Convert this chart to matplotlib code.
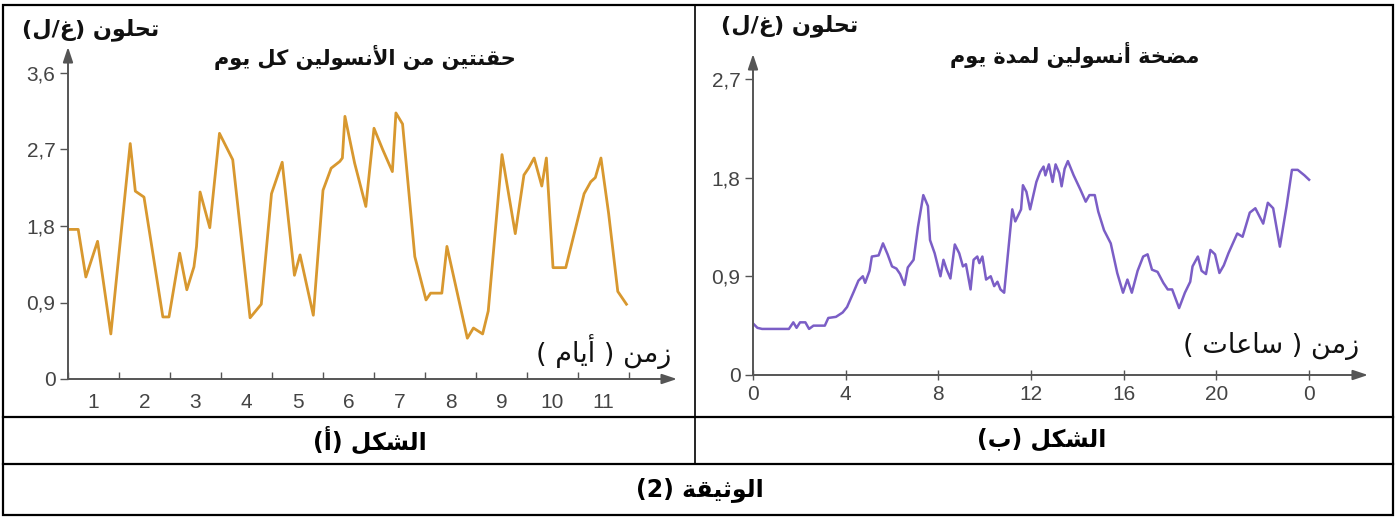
import matplotlib
matplotlib.use("Agg")
import matplotlib.pyplot as plt
from matplotlib.patches import Rectangle
from matplotlib.lines import Line2D

# ---------------- data ----------------
days_a = [0, 0.20, 0.35, 0.58, 0.84, 1.22, 1.32, 1.49, 1.86, 1.98, 2.19, 2.33, 2.47,
          2.52, 2.59, 2.78, 2.97, 3.23, 3.57, 3.79, 3.99, 4.20, 4.44, 4.55, 4.81, 5.00,
          5.16, 5.33, 5.38, 5.43, 5.62, 5.84, 6.00, 6.17, 6.36, 6.43, 6.56, 6.80, 7.02,
          7.11, 7.33, 7.43, 7.83, 7.95, 8.13, 8.24, 8.51, 8.77, 8.94, 9.03, 9.14, 9.29,
          9.38, 9.51, 9.76, 10.12, 10.25, 10.34, 10.45, 10.60, 10.78, 10.95]
glucose_a = [1.76, 1.76, 1.20, 1.62, 0.53, 2.77, 2.21, 2.14, 0.73, 0.73, 1.48, 1.05, 1.32,
             1.56, 2.20, 1.78, 2.89, 2.58, 0.72, 0.88, 2.18, 2.55, 1.22, 1.46, 0.75, 2.22,
             2.48, 2.56, 2.60, 3.09, 2.54, 2.03, 2.95, 2.70, 2.44, 3.13, 3.00, 1.44, 0.93,
             1.01, 1.01, 1.56, 0.48, 0.60, 0.53, 0.80, 2.64, 1.71, 2.40, 2.48, 2.60, 2.27,
             2.60, 1.31, 1.31, 2.18, 2.32, 2.37, 2.60, 1.95, 1.03, 0.88]

hours_b = [0, 0.19, 0.39, 1.55, 1.74, 1.88, 2.03, 2.26, 2.42, 2.61, 3.10, 3.25, 3.58,
           3.87, 4.06, 4.35, 4.55, 4.74, 4.84, 5.03, 5.13, 5.42, 5.61, 5.81, 6.00, 6.19,
           6.35, 6.54, 6.68, 6.93, 7.12, 7.35, 7.55, 7.64, 7.84, 8.09, 8.22, 8.36, 8.52,
           8.71, 8.90, 9.06, 9.19, 9.39, 9.52, 9.68, 9.77, 9.90, 10.06, 10.26, 10.41,
           10.55, 10.68, 10.84, 11.19, 11.32, 11.57, 11.65, 11.80, 11.96, 12.23, 12.39,
           12.54, 12.62, 12.77, 12.93, 13.06, 13.22, 13.32, 13.45, 13.59, 13.84, 14.13,
           14.36, 14.52, 14.75, 14.90, 15.15, 15.44, 15.72, 15.97, 16.16, 16.35, 16.60,
           16.84, 17.03, 17.22, 17.46, 17.71, 17.90, 18.09, 18.39, 18.64, 18.87, 18.97,
           19.20, 19.36, 19.55, 19.74, 19.94, 20.13, 20.32, 20.52, 20.90, 21.13, 21.44,
           21.68, 22.02, 22.22, 22.45, 22.74, 23.03, 23.26, 23.51, 23.80, 24.00]
glucose_b = [0.47, 0.43, 0.42, 0.42, 0.48, 0.43, 0.48, 0.48, 0.42, 0.45, 0.45, 0.52, 0.53,
             0.57, 0.62, 0.76, 0.86, 0.90, 0.84, 0.95, 1.08, 1.09, 1.20, 1.10, 0.99, 0.97,
             0.92, 0.82, 0.98, 1.05, 1.35, 1.64, 1.54, 1.23, 1.11, 0.90, 1.05, 0.96, 0.88,
             1.19, 1.11, 0.99, 1.01, 0.78, 1.05, 1.08, 1.02, 1.08, 0.87, 0.90, 0.81, 0.85,
             0.78, 0.75, 1.51, 1.40, 1.51, 1.73, 1.67, 1.51, 1.76, 1.85, 1.90, 1.82, 1.92,
             1.76, 1.92, 1.84, 1.72, 1.88, 1.95, 1.82, 1.69, 1.58, 1.64, 1.64, 1.49, 1.32,
             1.20, 0.93, 0.75, 0.87, 0.75, 0.95, 1.08, 1.10, 0.96, 0.94, 0.84, 0.78, 0.78,
             0.61, 0.75, 0.85, 0.99, 1.08, 0.95, 0.92, 1.14, 1.10, 0.93, 1.00, 1.11, 1.29,
             1.26, 1.48, 1.52, 1.38, 1.57, 1.52, 1.17, 1.54, 1.87, 1.87, 1.82, 1.78]

yticks_a = [0, 0.9, 1.8, 2.7, 3.6]
yticklabels_a = ["0", "0,9", "1,8", "2,7", "3,6"]
xticklabels_a = ["1", "2", "3", "4", "5", "6", "7", "8", "9", "10", "11"]

yticks_b = [0, 0.9, 1.8, 2.7]
yticklabels_b = ["0", "0,9", "1,8", "2,7"]
xticks_b = [0, 4, 8, 12, 16, 20, 24]
xticklabels_b = ["0", "4", "8", "12", "16", "20", "0"]

ylabel_txt = "تحلون (غ/ل)"
title_a = "حقنتين من الأنسولين كل يوم"
title_b = "مضخة أنسولين لمدة يوم"
xlabel_a = "زمن ( أيام )"
xlabel_b = "زمن ( ساعات )"
caption_a = "الشكل (أ)"
caption_b = "الشكل (ب)"
caption_doc = "الوثيقة (2)"

# ---------------- minimal Arabic shaping (display forms + visual order) ----------------
RIGHT_JOIN = {'ا': (0xFE8D, 0xFE8E), 'أ': (0xFE83, 0xFE84), 'د': (0xFEA9, 0xFEAA),
              'ز': (0xFEAF, 0xFEB0), 'و': (0xFEED, 0xFEEE), 'ة': (0xFE93, 0xFE94)}
DUAL_JOIN = {'ب': 0xFE8F, 'ت': 0xFE95, 'ث': 0xFE99, 'ح': 0xFEA1, 'خ': 0xFEA5,
             'س': 0xFEB1, 'ش': 0xFEB5, 'ض': 0xFEBD, 'ع': 0xFEC9, 'غ': 0xFECD,
             'ق': 0xFED5, 'ك': 0xFED9, 'ل': 0xFEDD, 'م': 0xFEE1, 'ن': 0xFEE5, 'ي': 0xFEF1}
LAM_ALEF = {'ا': (0xFEFB, 0xFEFC), 'أ': (0xFEF7, 0xFEF8)}
ALL_AR = set(RIGHT_JOIN) | set(DUAL_JOIN)


def shape(text):
    out = []
    n = len(text)
    i = 0
    while i < n:
        c = text[i]
        if c not in ALL_AR:
            out.append(c)
            i += 1
            continue
        prev_join = i > 0 and text[i - 1] in DUAL_JOIN
        if c == 'ل' and i + 1 < n and text[i + 1] in LAM_ALEF:
            iso, fin = LAM_ALEF[text[i + 1]]
            out.append(chr(fin if prev_join else iso))
            i += 2
            continue
        if c in RIGHT_JOIN:
            iso, fin = RIGHT_JOIN[c]
            out.append(chr(fin if prev_join else iso))
        else:
            s = DUAL_JOIN[c]
            next_join = i + 1 < n and text[i + 1] in ALL_AR
            if prev_join and next_join:
                out.append(chr(s + 3))
            elif prev_join:
                out.append(chr(s + 1))
            elif next_join:
                out.append(chr(s + 2))
            else:
                out.append(chr(s))
        i += 1
    vis = ''.join(reversed(out))
    return vis.translate(str.maketrans({'(': ')', ')': '('}))


# ---------------- figure ----------------
plt.rcParams['font.family'] = ['DejaVu Sans']
W, H = 1400, 520
fig = plt.figure(figsize=(W / 100, H / 100), dpi=100)


def fx(px):
    return px / W


def fy(py):
    return 1 - py / H


AX_COL = '#555555'
TXT_COL = '#444444'
NUM_FONT = ['Liberation Sans', 'DejaVu Sans']
AR_FONT = ['DejaVu Sans']
TICK_SIZE = 15


def setup_axes(ax):
    for s in ax.spines.values():
        s.set_visible(False)
    ax.patch.set_alpha(0)
    for xy in [(1, 0), (0, 1)]:
        ax.annotate('', xy=xy, xycoords='axes fraction', xytext=(0, 0),
                    arrowprops=dict(arrowstyle='-|>,head_length=0.9,head_width=0.3',
                                    lw=1.4, color=AX_COL, shrinkA=0, shrinkB=0))


def style_ticklabels(ax):
    for lab in ax.get_xticklabels(which='both') + ax.get_yticklabels():
        lab.set_fontfamily(NUM_FONT)


# ----- left chart -----
axA = fig.add_axes([fx(68), fy(379), fx(677 - 68), (379 - 47) / H])
axA.plot(days_a, glucose_a, color='#D8982F', lw=2.0)
axA.set_xlim(0, (677 - 68) / 51.0)
axA.set_ylim(0, (379 - 47) / 85.0)
setup_axes(axA)
axA.set_yticks(yticks_a)
axA.set_yticklabels(yticklabels_a)
axA.set_xticks(range(0, 12))
axA.set_xticklabels([])
axA.set_xticks([k + 0.5 for k in range(len(xticklabels_a))], minor=True)
axA.set_xticklabels(xticklabels_a, minor=True)
axA.tick_params(axis='x', which='major', direction='in', length=5, width=1, color=AX_COL)
axA.tick_params(axis='x', which='minor', length=0, pad=10, labelsize=TICK_SIZE, labelcolor=TXT_COL)
axA.tick_params(axis='y', direction='out', length=6, width=1, color=AX_COL,
                labelsize=TICK_SIZE, labelcolor=TXT_COL, pad=3)
style_ticklabels(axA)

# ----- right chart -----
axB = fig.add_axes([fx(753), fy(375), fx(1368 - 753), (375 - 54) / H])
axB.plot(hours_b, glucose_b, color='#7B5EC6', lw=1.8)
axB.set_xlim(0, (1368 - 753) / 23.17)
axB.set_ylim(0, (375 - 54) / 109.7)
setup_axes(axB)
axB.set_yticks(yticks_b)
axB.set_yticklabels(yticklabels_b)
axB.set_xticks(xticks_b)
axB.set_xticklabels(xticklabels_b)
axB.tick_params(axis='x', direction='inout', length=7, width=1, color=AX_COL,
                labelsize=TICK_SIZE, labelcolor=TXT_COL, pad=4)
axB.tick_params(axis='y', direction='out', length=6, width=1, color=AX_COL,
                labelsize=TICK_SIZE, labelcolor=TXT_COL, pad=3)
style_ticklabels(axB)

# ----- texts -----
def ar_text(px, py, s, size, bold=True, color='#111111'):
    fig.text(fx(px), fy(py), shape(s), ha='center', va='center', fontsize=size,
             fontweight='bold' if bold else 'normal', color=color, family=AR_FONT)


ar_text(91, 30, ylabel_txt, 16)
ar_text(790, 26, ylabel_txt, 16)
ar_text(365, 57, title_a, 15)
ar_text(1075, 55, title_b, 15)
ar_text(604, 352, xlabel_a, 19.5, bold=False)
ar_text(1271, 346, xlabel_b, 19.5, bold=False)
ar_text(370, 440, caption_a, 17, color='#000000')
ar_text(1042, 440, caption_b, 17, color='#000000')
ar_text(700, 490, caption_doc, 17, color='#000000')

# ----- table borders -----
lw_b = 1.6
fig.add_artist(Rectangle((fx(3), fy(515)), fx(1393 - 3), (515 - 5) / H, fill=False,
                         lw=lw_b, edgecolor='black', transform=fig.transFigure))
fig.add_artist(Line2D([fx(3), fx(1393)], [fy(417), fy(417)], lw=lw_b, color='black'))
fig.add_artist(Line2D([fx(3), fx(1393)], [fy(464), fy(464)], lw=lw_b, color='black'))
fig.add_artist(Line2D([fx(695), fx(695)], [fy(5), fy(464)], lw=1.2, color='black'))

fig.savefig('out.png', dpi=100)
